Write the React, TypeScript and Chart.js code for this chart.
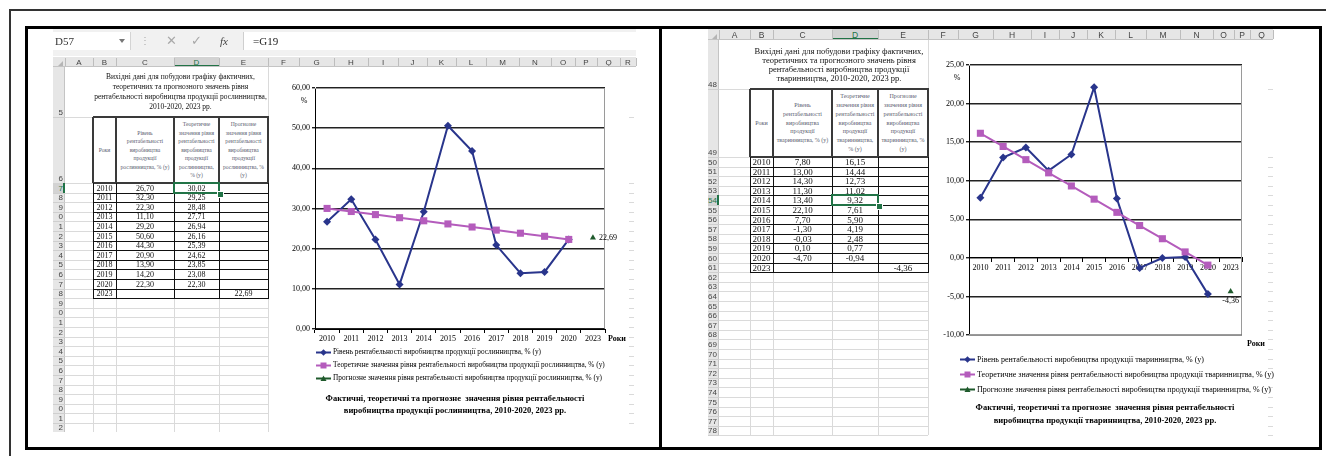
import React, { useEffect, useRef } from 'react';
import { Chart, registerables } from 'chart.js';

Chart.register(...registerables);

// ---------------- DATA ----------------
const YEARS = ['2010', '2011', '2012', '2013', '2014', '2015', '2016', '2017', '2018', '2019', '2020', '2023'];

const CROP_ACTUAL = [26.7, 32.3, 22.3, 11.1, 29.2, 50.6, 44.3, 20.9, 13.9, 14.2, 22.3];
const CROP_THEORY = [30.02, 29.25, 28.48, 27.71, 26.94, 26.16, 25.39, 24.62, 23.85, 23.08, 22.3];
const CROP_FORECAST = 22.69;

const LIVE_ACTUAL = [7.8, 13.0, 14.3, 11.3, 13.4, 22.1, 7.7, -1.3, -0.03, 0.1, -4.7];
const LIVE_THEORY = [16.15, 14.44, 12.73, 11.02, 9.32, 7.61, 5.9, 4.19, 2.48, 0.77, -0.94];
const LIVE_FORECAST = -4.36;

const CROP_LEGEND = [
  'Рівень рентабельності виробництва продукції рослинництва, % (у)',
  'Теоретичне значення рівня рентабельності виробництва продукції рослинництва, % (у)',
  'Прогнозне значення рівня рентабельності виробництва продукції рослинництва, % (у)',
];
const LIVE_LEGEND = [
  'Рівень рентабельності виробництва продукції тваринництва, % (у)',
  'Теоретичне значення рівня рентабельності виробництва продукції тваринництва, % (у)',
  'Прогнозне значення рівня рентабельності виробництва продукції тваринництва, % (у)',
];
const CROP_CHART_TITLE = [
  'Фактичні, теоретичні та прогнозне  значення рівня рентабельності',
  'виробництва продукції рослинництва, 2010-2020, 2023 рр.',
];
const LIVE_CHART_TITLE = [
  'Фактичні, теоретичні та прогнозне  значення рівня рентабельності',
  'виробництва продукції тваринництва, 2010-2020, 2023 рр.',
];
const CROP_SHEET_TITLE = [
  'Вихідні дані для побудови графіку фактичних,',
  'теоретичних та прогнозного  значень рівня',
  'рентабельності виробництва продукції рослинництва,',
  '2010-2020, 2023 рр.',
];
const LIVE_SHEET_TITLE = [
  'Вихідні дані для побудови графіку фактичних,',
  'теоретичних та прогнозного  значень рівня',
  'рентабельності виробництва продукції',
  'тваринництва, 2010-2020, 2023 рр.',
];
const CROP_HEAD = [
  ['Роки'],
  ['Рівень', 'рентабельності', 'виробництва', 'продукції', 'рослинництва, % (у)'],
  ['Теоретичне', 'значення рівня', 'рентабельності', 'виробництва', 'продукції', 'рослинництва,', '% (у)'],
  ['Прогнозне', 'значення рівня', 'рентабельності', 'виробництва', 'продукції', 'рослинництва, %', '(у)'],
];
const LIVE_HEAD = [
  ['Роки'],
  ['Рівень', 'рентабельності', 'виробництва', 'продукції', 'тваринництва, % (у)'],
  ['Теоретичне', 'значення рівня', 'рентабельності', 'виробництва', 'продукції', 'тваринництва,', '% (у)'],
  ['Прогнозне', 'значення рівня', 'рентабельності', 'виробництва', 'продукції', 'тваринництва, %', '(у)'],
];
const LEFT_LETTERS = ['A', 'B', 'C', 'D', 'E', 'F', 'G', 'H', 'I', 'J', 'K', 'L', 'M', 'N', 'O', 'P', 'Q', 'R'];
const RIGHT_LETTERS = ['A', 'B', 'C', 'D', 'E', 'F', 'G', 'H', 'I', 'J', 'K', 'L', 'M', 'N', 'O', 'P', 'Q'];

// ---------------- STYLE ----------------
const SERIF = "'Liberation Serif', 'Times New Roman', serif";
const SANS = "'Liberation Sans', Arial, sans-serif";
const NAVY = '#29358c';
const MAGENTA = '#b45cbc';
const GREEN = '#1f5a2c';
const XL_GREEN = '#217346';
const GRAYTEXT = { filter: 'grayscale(1)' };

const fmt = (v: number) => v.toFixed(2).replace('.', ',');

function drawMarker(ctx: CanvasRenderingContext2D, style: string, x: number, y: number, r: number, color: string) {
  ctx.fillStyle = color;
  ctx.beginPath();
  if (style === 'diamond') {
    ctx.moveTo(x, y - r);
    ctx.lineTo(x + r, y);
    ctx.lineTo(x, y + r);
    ctx.lineTo(x - r, y);
  } else if (style === 'square') {
    ctx.rect(x - r, y - r, 2 * r, 2 * r);
  } else {
    ctx.moveTo(x, y - r);
    ctx.lineTo(x + r, y + r * 0.8);
    ctx.lineTo(x - r, y + r * 0.8);
  }
  ctx.closePath();
  ctx.fill();
}

function makeDecor(o: any) {
  return {
    id: 'decor',
    beforeDatasetsDraw(chart: any) {
      const { ctx, chartArea: a } = chart;
      ctx.save();
      ctx.strokeStyle = '#9a9a9a';
      ctx.lineWidth = 1;
      const l = Math.round(a.left), r = Math.round(a.right) - 0.5, t = Math.round(a.top) + 0.5, b = Math.round(a.bottom) - 0.5;
      ctx.beginPath();
      ctx.moveTo(l, t);
      ctx.lineTo(r, t);
      ctx.lineTo(r, b);
      if (o.bottomBorder) ctx.lineTo(l, b);
      ctx.stroke();
      ctx.restore();
    },
    afterDraw(chart: any) {
      const { ctx, chartArea: a, width } = chart;
      ctx.save();
      ctx.fillStyle = '#000';
      ctx.textBaseline = 'middle';
      ctx.font = `${o.axisFont}px ${SERIF}`;
      ctx.textAlign = 'center';
      ctx.fillText('%', a.left + o.pct[0], a.top + o.pct[1]);
      ctx.textAlign = 'left';
      ctx.font = `bold ${o.axisFont}px ${SERIF}`;
      ctx.fillText('Роки', a.right + o.roky[0], a.bottom + o.roky[1]);

      const meta = chart.getDatasetMeta(2);
      const pt = meta.data[meta.data.length - 1];
      ctx.font = `${o.axisFont}px ${SERIF}`;
      if (o.fcBelow) {
        ctx.textAlign = 'center';
        ctx.fillText(fmt(o.forecast), pt.x, pt.y + 9);
      } else {
        ctx.textAlign = 'left';
        ctx.fillText(fmt(o.forecast), pt.x + 6, pt.y);
      }

      const items = [
        { color: NAVY, marker: 'diamond', r: 3.2 },
        { color: MAGENTA, marker: 'square', r: 3 },
        { color: GREEN, marker: 'triangle', r: 3 },
      ];
      items.forEach((it, i) => {
        const y = Math.round(a.bottom + o.legendY[i]) + 0.5;
        const x0 = a.left + o.legendX;
        ctx.strokeStyle = it.color;
        ctx.lineWidth = 2;
        ctx.beginPath();
        ctx.moveTo(x0, y);
        ctx.lineTo(x0 + o.legendLine, y);
        ctx.stroke();
        drawMarker(ctx, it.marker, x0 + o.legendLine / 2, y, it.r, it.color);
        ctx.fillStyle = '#000';
        ctx.font = `${o.legendFont}px ${SERIF}`;
        ctx.textAlign = 'left';
        ctx.fillText(o.legend[i], x0 + o.legendLine + 2, y);
      });

      ctx.font = `bold ${o.titleFont}px ${SERIF}`;
      ctx.textAlign = 'center';
      o.title.forEach((line: string, i: number) => ctx.fillText(line, width / 2, a.bottom + o.titleY[i]));
      ctx.restore();
    },
  };
}

function buildConfig(o: any) {
  const n = YEARS.length;
  const fill = (arr: number[]) => YEARS.map((_, i) => (i < arr.length ? arr[i] : null));
  const fc = YEARS.map((_, i) => (i === n - 1 ? o.forecast : null));
  const tickFont = { family: SERIF, size: o.tickFont };
  return {
    type: 'line',
    data: {
      labels: YEARS,
      datasets: [
        {
          label: o.legend[0], data: fill(o.actual), borderColor: NAVY, backgroundColor: NAVY,
          borderWidth: 2, pointStyle: 'rectRot', pointRadius: 4, pointBorderWidth: 0, tension: 0, order: 2,
        },
        {
          label: o.legend[1], data: fill(o.theory), borderColor: MAGENTA, backgroundColor: MAGENTA,
          borderWidth: 2, pointStyle: 'rect', pointRadius: 5, pointBorderWidth: 0, tension: 0, order: 1,
        },
        {
          label: o.legend[2], data: fc, borderColor: GREEN, backgroundColor: GREEN,
          borderWidth: 2, pointStyle: 'triangle', pointRadius: 3.5, pointBorderWidth: 0, order: 0,
        },
      ],
    },
    options: {
      animation: false,
      responsive: false,
      maintainAspectRatio: false,
      devicePixelRatio: 1,
      events: [],
      layout: { padding: { top: o.padTop, right: o.padRight, bottom: o.padBottom, left: 0 } },
      plugins: { legend: { display: false }, title: { display: false }, tooltip: { enabled: false } },
      scales: {
        x: {
          type: 'category',
          offset: true,
          position: o.xAtZero ? { y: 0 } : 'bottom',
          grid: { display: true, drawOnChartArea: false, drawTicks: true, tickLength: 4, color: '#000', offset: true, lineWidth: 1 },
          border: { display: true, color: '#000', width: 1 },
          ticks: { font: tickFont, color: '#000', padding: 1, maxRotation: 0, autoSkip: false },
          afterFit: (s: any) => { s.height = o.xHeight; },
        },
        y: {
          type: 'linear',
          min: o.min,
          max: o.max,
          ticks: { stepSize: o.step, font: tickFont, color: '#000', padding: 2, callback: (v: any) => fmt(Number(v)) },
          grid: { color: '#222', lineWidth: 1.4, tickLength: 3, drawTicks: true },
          border: { display: true, color: '#000', width: 1 },
          afterFit: (s: any) => { s.width = o.yWidth; },
        },
      },
    },
    plugins: [makeDecor(o)],
  };
}

function LineChart({ x, y, w, h, opts }: any) {
  const ref = useRef<HTMLCanvasElement>(null);
  useEffect(() => {
    const chart = new Chart(ref.current as HTMLCanvasElement, buildConfig(opts) as any);
    return () => chart.destroy();
  }, []);
  return (
    <canvas ref={ref} width={w} height={h}
      style={{ position: 'absolute', left: x, top: y, width: w, height: h }} />
  );
}

// ---------------- SHEET (HTML) ----------------
const abs = (x: number, y: number, w: number, h: number, extra: any = {}): React.CSSProperties => ({
  position: 'absolute', left: x, top: y, width: w, height: h, ...extra,
});

function Sheet(p: any) {
  const { rowHdrL, ce, letters, hdrTop, hdrBot, re, rowLabel, gridEnd, selCol, selRow, stub, bottom } = p;
  const els: any[] = [];
  let k = 0;
  const key = () => 'k' + k++;
  const last = ce[ce.length - 1];

  // column header bar
  els.push(<div key={key()} style={abs(rowHdrL, hdrTop, last - rowHdrL, hdrBot - hdrTop, { background: '#e6e6e6' })} />);
  els.push(<div key={key()} style={abs(ce[selCol], hdrTop, ce[selCol + 1] - ce[selCol], hdrBot - hdrTop,
    { background: '#d3d3d3', borderBottom: `2px solid ${XL_GREEN}`, boxSizing: 'border-box' })} />);
  ce.forEach((x: number) => {
    els.push(<div key={key()} style={abs(x, hdrTop + 1, 1, hdrBot - hdrTop - 2, { background: '#bdbdbd' })} />);
  });
  els.push(<div key={key()} style={abs(ce[0] - 7, hdrBot - 6, 0, 0,
    { borderLeft: '5px solid transparent', borderBottom: '5px solid #b5b5b5' })} />);
  letters.forEach((L: string, i: number) => {
    const x0 = ce[i], x1 = ce[i + 1] !== undefined ? ce[i + 1] : last;
    if (x1 <= x0) return;
    els.push(
      <div key={key()} style={abs(x0, hdrTop, x1 - x0, hdrBot - hdrTop, {
        font: `${p.hdrFont}px ${SANS}`, color: i === selCol ? XL_GREEN : '#444', display: 'flex',
        alignItems: 'center', justifyContent: 'center', overflow: 'hidden', whiteSpace: 'nowrap',
        ...(i === selCol ? {} : GRAYTEXT),
      })}>{L}</div>,
    );
  });
  els.push(<div key={key()} style={abs(rowHdrL, hdrBot - 1, last - rowHdrL, 1, { background: '#c4c4c4' })} />);

  // row header
  els.push(<div key={key()} style={abs(rowHdrL, hdrBot, ce[0] - rowHdrL, bottom - hdrBot, { background: '#e6e6e6' })} />);
  els.push(<div key={key()} style={abs(ce[0] - 1, hdrBot, 1, bottom - hdrBot, { background: '#c4c4c4' })} />);
  for (let i = 0; i < re.length - 1; i++) {
    const y0 = re[i];
    const y1 = Math.min(re[i + 1], bottom);
    if (y0 >= bottom) break;
    const sel = i === selRow;
    if (sel) {
      els.push(<div key={key()} style={abs(rowHdrL, y0, ce[0] - rowHdrL, y1 - y0,
        { background: '#d3d3d3', borderRight: `2px solid ${XL_GREEN}`, boxSizing: 'border-box' })} />);
    }
    els.push(
      <div key={key()} style={abs(rowHdrL, y0, ce[0] - rowHdrL - 2, y1 - y0, {
        font: `${p.rowFont}px ${SANS}`, color: sel ? XL_GREEN : '#444', display: 'flex', alignItems: 'flex-end',
        justifyContent: 'flex-end', lineHeight: '9px', overflow: 'hidden', whiteSpace: 'nowrap',
        ...(sel ? {} : GRAYTEXT),
      })}>{rowLabel(i)}</div>,
    );
    if (re[i + 1] <= bottom) {
      els.push(<div key={key()} style={abs(rowHdrL, re[i + 1], ce[0] - rowHdrL, 1, { background: '#cfcfcf' })} />);
    }
  }

  // cell gridlines
  for (let i = 1; i < re.length; i++) {
    if (re[i] > bottom) break;
    els.push(<div key={key()} style={abs(ce[0], re[i], ce[gridEnd] - ce[0], 1, { background: '#dadada' })} />);
    els.push(<div key={key()} style={abs(stub[0], re[i], stub[1] - stub[0], 1, { background: '#dadada' })} />);
  }
  for (let j = 1; j <= gridEnd; j++) {
    const merged = j >= 2 && j <= 4;
    const y0 = merged ? re[1] : re[0];
    els.push(<div key={key()} style={abs(ce[j], y0, 1, bottom - y0, { background: '#dadada' })} />);
  }

  // sheet title (merged B–E)
  els.push(
    <div key={key()} style={abs(ce[1], re[0], ce[5] - ce[1], re[1] - re[0], {
      display: 'flex', flexDirection: 'column', alignItems: 'center', justifyContent: 'center',
      font: `${p.titleFont}px ${SERIF}`, lineHeight: `${p.titleLH}px`, color: '#111', whiteSpace: 'nowrap',
      background: '#fff', ...GRAYTEXT,
    })}>{p.title.map((t: string, i: number) => <div key={i}>{t}</div>)}</div>,
  );

  // table header cells
  for (let j = 0; j < 4; j++) {
    els.push(
      <div key={key()} style={abs(ce[j + 1], re[1], ce[j + 2] - ce[j + 1], re[2] - re[1], {
        display: 'flex', flexDirection: 'column', alignItems: 'center', justifyContent: 'center',
        font: `${p.headFont}px ${SERIF}`, lineHeight: `${p.headLH}px`, color: '#5a6070', whiteSpace: 'nowrap',
        background: '#fff', overflow: 'hidden',
      })}>{p.head[j].map((t: string, i: number) => <div key={i}>{t}</div>)}</div>,
    );
  }
  // table data
  p.rows.forEach((row: string[], r: number) => {
    const y0 = re[2 + r], y1 = re[3 + r];
    row.forEach((t: string, j: number) => {
      els.push(
        <div key={key()} style={abs(ce[j + 1], y0, ce[j + 2] - ce[j + 1], y1 - y0, {
          display: 'flex', alignItems: 'center', justifyContent: 'center',
          font: `${p.cellFont}px ${SERIF}`, color: '#111', whiteSpace: 'nowrap', background: '#fff', ...GRAYTEXT,
        })}>{t}</div>,
      );
    });
  });
  // table borders
  const tEnd = 2 + p.rows.length;
  for (let i = 1; i <= tEnd; i++) {
    const thick = i <= 2;
    els.push(<div key={key()} style={abs(ce[1], re[i] - (thick ? 1 : 0), ce[5] - ce[1] + 1, thick ? 2 : 1,
      { background: thick ? '#3a3a3a' : '#111' })} />);
  }
  for (let j = 1; j <= 5; j++) {
    els.push(<div key={key()} style={abs(ce[j] - 1, re[1], 2, re[2] - re[1], { background: '#3a3a3a' })} />);
    els.push(<div key={key()} style={abs(ce[j], re[2], 1, re[tEnd] - re[2], { background: '#111' })} />);
  }
  // selection
  const sx = ce[p.selCellCol], sy = re[p.selCellRow];
  const sw = ce[p.selCellCol + 1] - sx, sh = re[p.selCellRow + 1] - sy;
  els.push(<div key={key()} style={abs(sx - 1, sy - 1, sw + 2, sh + 2, { border: `2px solid ${XL_GREEN}`, boxSizing: 'border-box' })} />);
  els.push(<div key={key()} style={abs(sx + sw - 2, sy + sh - 2, 5, 5, { background: XL_GREEN, border: '1px solid #fff' })} />);

  return <>{els}</>;
}

function rowsFrom(actual: number[], theory: number[], forecast: number) {
  return YEARS.map((y, i) => [
    y,
    i < actual.length ? fmt(actual[i]) : '',
    i < theory.length ? fmt(theory[i]) : '',
    i === YEARS.length - 1 ? fmt(forecast) : '',
  ]);
}

function edges(start: number[], step: number, count: number) {
  const out = [...start];
  let y = start[start.length - 1];
  for (let i = 0; i < count; i++) {
    y += step;
    out.push(Math.round(y));
  }
  return out;
}

const LEFT_COLS = [65, 93, 116, 174, 219, 268, 299, 334, 368, 398, 427, 456, 486, 519, 551, 575, 597, 620, 636];
const RIGHT_COLS = [719, 750, 773, 832, 878, 928, 958, 993, 1031, 1059, 1087, 1115, 1146, 1180, 1213, 1234, 1250, 1273];
const LEFT_ROWS = edges([67, 117, 183], 9.6, 27);
const RIGHT_ROWS = edges([40, 89, 157], 9.6, 30);

export default function App() {
  useEffect(() => {
    document.body.style.margin = '0';
  }, []);

  const cropOpts = {
    actual: CROP_ACTUAL, theory: CROP_THEORY, forecast: CROP_FORECAST, legend: CROP_LEGEND, title: CROP_CHART_TITLE,
    min: 0, max: 60, step: 10, yWidth: 45, xHeight: 20, xAtZero: false,
    padTop: 18, padRight: 35, padBottom: 81,
    tickFont: 8, axisFont: 8, legendFont: 7.3, titleFont: 8.5,
    pct: [-11, 13], roky: [3, 10], legendX: 1, legendY: [23, 36, 49], legendLine: 15, titleY: [70, 82],
    fcBelow: false, bottomBorder: false,
  };
  const liveOpts = {
    actual: LIVE_ACTUAL, theory: LIVE_THEORY, forecast: LIVE_FORECAST, legend: LIVE_LEGEND, title: LIVE_CHART_TITLE,
    min: -10, max: 25, step: 5, yWidth: 44, xHeight: 20, xAtZero: true,
    padTop: 20, padRight: 43, padBottom: 105,
    tickFont: 8, axisFont: 8, legendFont: 8, titleFont: 8.5,
    pct: [-12, 13], roky: [5, 9], legendX: -9, legendY: [24, 39, 54], legendLine: 15, titleY: [73, 86],
    fcBelow: true, bottomBorder: true,
  };

  return (
    <div style={{ position: 'absolute', left: 0, top: 0, width: 1326, height: 456, overflow: 'hidden', background: '#fff' }}>
      {/* outer frame */}
      <div style={abs(9, 9, 1317, 2, { background: '#333' })} />
      <div style={abs(9, 9, 2, 447, { background: '#333' })} />

      {/* left panel: formula bar */}
      <div style={abs(53, 29, 583, 27, { background: '#f1f1f1' })} />
      <div style={abs(53, 32, 78, 18, { background: '#fff', borderRight: '1px solid #d4d4d4', boxSizing: 'border-box' })} />
      <div style={abs(55, 32, 40, 18, { font: `11px ${SERIF}`, color: '#333', lineHeight: '18px', ...GRAYTEXT })}>D57</div>
      <div style={abs(119, 39, 0, 0, { borderLeft: '3px solid transparent', borderRight: '3px solid transparent', borderTop: '4px solid #777' })} />
      <div style={abs(140, 33, 6, 16, { font: `10px ${SANS}`, color: '#aaa', lineHeight: '16px', ...GRAYTEXT })}>⋮</div>
      <div style={abs(166, 32, 14, 18, { font: `13px ${SANS}`, color: '#a8a8a8', lineHeight: '18px', ...GRAYTEXT })}>✕</div>
      <div style={abs(191, 32, 14, 18, { font: `13px ${SANS}`, color: '#a8a8a8', lineHeight: '18px', ...GRAYTEXT })}>✓</div>
      <div style={abs(220, 32, 16, 18, { font: `italic 11px ${SERIF}`, color: '#444', lineHeight: '18px', ...GRAYTEXT })}>fx</div>
      <div style={abs(243, 32, 393, 18, { background: '#fff', borderLeft: '1px solid #cfcfcf', boxSizing: 'border-box' })} />
      <div style={abs(253, 32, 60, 18, { font: `11px ${SERIF}`, color: '#222', lineHeight: '18px', ...GRAYTEXT })}>=G19</div>

      <Sheet
        rowHdrL={53} ce={LEFT_COLS} letters={LEFT_LETTERS} hdrTop={57} hdrBot={67} re={LEFT_ROWS}
        rowLabel={(i: number) => String((15 + i) % 10)} gridEnd={5} selCol={3} selRow={2}
        stub={[629, 634]} bottom={432} hdrFont={8} rowFont={8}
        title={CROP_SHEET_TITLE} titleFont={7.5} titleLH={10}
        head={CROP_HEAD} headFont={5.6} headLH={8.5}
        rows={rowsFrom(CROP_ACTUAL, CROP_THEORY, CROP_FORECAST)} cellFont={8}
        selCellCol={3} selCellRow={2}
      />
      <LineChart x={270} y={70} w={370} h={360} opts={cropOpts} />

      <Sheet
        rowHdrL={708} ce={RIGHT_COLS} letters={RIGHT_LETTERS} hdrTop={29} hdrBot={40} re={RIGHT_ROWS}
        rowLabel={(i: number) => String(48 + i)} gridEnd={5} selCol={3} selRow={6}
        stub={[1268, 1273]} bottom={435} hdrFont={8.5} rowFont={8}
        title={LIVE_SHEET_TITLE} titleFont={8.5} titleLH={9}
        head={LIVE_HEAD} headFont={6} headLH={8.8}
        rows={rowsFrom(LIVE_ACTUAL, LIVE_THEORY, LIVE_FORECAST)} cellFont={9}
        selCellCol={3} selCellRow={6}
      />
      <LineChart x={925} y={45} w={360} h={395} opts={liveOpts} />

      {/* inner frame */}
      <div style={abs(25, 26, 1297, 3, { background: '#000' })} />
      <div style={abs(25, 26, 3, 424, { background: '#000' })} />
      <div style={abs(1319, 26, 3, 424, { background: '#000' })} />
      <div style={abs(25, 447, 1297, 3, { background: '#000' })} />
      <div style={abs(659, 26, 3, 424, { background: '#000' })} />
    </div>
  );
}
